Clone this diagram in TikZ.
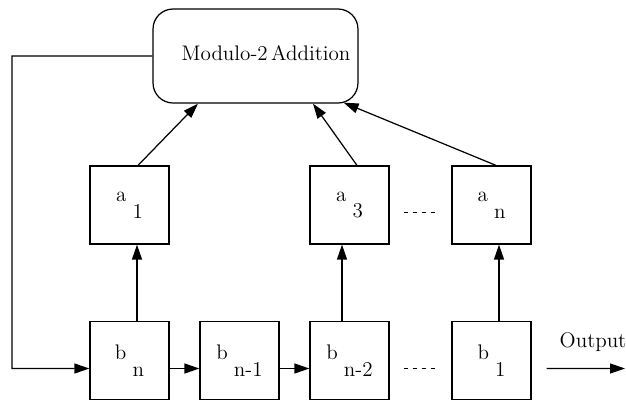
\documentclass[tikz,border=0pt]{standalone}
\usepackage{amsmath,amssymb}
\usepackage{tikz}
\usetikzlibrary{arrows.meta}

\newcommand{\regtxt}[2]{#1\hspace{3.5pt}\raisebox{-9.5pt}{#2}}

\begin{document}
\begin{tikzpicture}[x=0.02cm,y=-0.02cm,line width=0.7pt,
    reg/.style={draw,minimum width=1.58cm,minimum height=1.56cm,inner sep=0pt,font=\large},
    arr/.style={-{Triangle[length=0.3cm,width=0.2cm]}},
    gapdots/.style={line width=0.5pt,dash pattern=on 0.08cm off 0.1cm,shorten <=0.28cm,shorten >=0.28cm}]
    \useasboundingbox (0,0) rectangle (626,400);
    \node[draw,rounded corners=0.4cm,minimum width=4.1cm,minimum height=1.88cm,font=\large] (mod) at (255.5,56) {\raisebox{4pt}{\hspace{12pt}Modulo-2\,Addition}};
    % register taps
    \node[reg] (a1) at (129.5,205) {\regtxt{a}{1}};
    \node[reg] (a3) at (349.5,205) {\regtxt{a}{3}};
    \node[reg] (an) at (491.5,205) {\regtxt{a}{n}};
    % shift register
    \node[reg] (bn) at (129.5,360.5) {\regtxt{b}{n}};
    \node[reg] (bn1) at (239.5,360.5) {\regtxt{b}{n-1}};
    \node[reg] (bn2) at (349.5,360.5) {\regtxt{b}{n-2}};
    \node[reg] (b1) at (491.5,360.5) {\regtxt{b}{1}};
    \node[font=\large,inner sep=1pt] (outlbl) at (593,342) {Output};
    \coordinate (fbk) at (12,368.5);
    \coordinate (outend) at (625,368.5);
      \draw[arr] ([xshift=0.17cm]a1.north) -- ([xshift=-1.15cm]mod.south);
      \draw[arr] ([xshift=0.15cm]a3.north) -- ([xshift=1.15cm]mod.south);
      \draw[arr] ([xshift=0.09cm]an.north) -- ([xshift=-0.3cm,yshift=0.02cm]mod.south east);
      \draw[arr] ([xshift=0.15cm]bn.north) -- ([xshift=0.15cm]a1.south);
      \draw[arr] ([xshift=-0.15cm]bn2.north) -- ([xshift=-0.15cm]a3.south);
      \draw[arr] ([xshift=0.15cm]b1.north) -- ([xshift=0.15cm]an.south);
      \draw[arr] ([yshift=-0.16cm]bn.east) -- ([yshift=-0.16cm]bn1.west);
      \draw[arr] ([yshift=-0.16cm]bn1.east) -- ([yshift=-0.16cm]bn2.west);
      \draw[gapdots] ([yshift=-0.14cm]a3.east) -- ([yshift=-0.14cm]an.west);
      \draw[gapdots] ([yshift=-0.16cm]bn2.east) -- ([yshift=-0.16cm]b1.west);
      \draw[arr] (mod.west) -| (fbk) -- ([yshift=-0.16cm]bn.west);
      \draw[arr] ([xshift=0.3cm,yshift=-0.16cm]b1.east) -- (outend);
\end{tikzpicture}
\end{document}
